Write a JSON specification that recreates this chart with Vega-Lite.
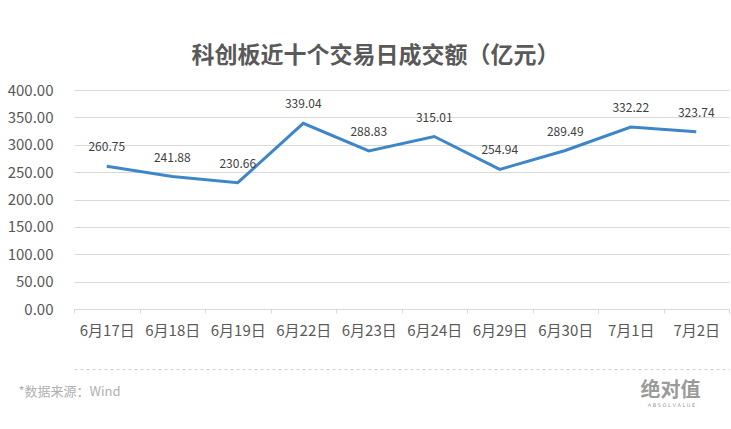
{
  "$schema": "https://vega.github.io/schema/vega-lite/v6.json",
  "width": 655,
  "height": 219,
  "autosize": {"type": "none"},
  "padding": {"left": 74, "top": 90, "right": 2, "bottom": 120},
  "background": "white",
  "config": {
    "view": {"stroke": null},
    "font": "Noto Sans CJK SC"
  },
  "title": {
    "text": "科创板近十个交易日成交额（亿元）",
    "fontSize": 23,
    "fontWeight": "bold",
    "color": "#595959",
    "font": "Noto Sans CJK SC",
    "anchor": "middle",
    "dx": -26,
    "offset": 15
  },
  "data": {
    "values": [
      {"date": "6月17日", "value": 260.75},
      {"date": "6月18日", "value": 241.88},
      {"date": "6月19日", "value": 230.66},
      {"date": "6月22日", "value": 339.04},
      {"date": "6月23日", "value": 288.83},
      {"date": "6月24日", "value": 315.01},
      {"date": "6月29日", "value": 254.94},
      {"date": "6月30日", "value": 289.49},
      {"date": "7月1日", "value": 332.22},
      {"date": "7月2日", "value": 323.74}
    ]
  },
  "resolve": {"axis": {"x": "independent", "y": "independent"}},
  "layer": [
    {
      "mark": {"type": "line", "color": "#3e86c8", "strokeWidth": 3},
      "encoding": {
        "x": {
          "field": "date",
          "type": "nominal",
          "sort": null,
          "scale": {"type": "band", "paddingInner": 0, "paddingOuter": 0},
          "axis": {
            "orient": "bottom",
            "labelAngle": 0,
            "labelFontSize": 15,
            "labelColor": "#595959",
            "labelFont": "Noto Sans CJK SC",
            "labelPadding": 10,
            "tickBand": "extent",
            "tickSize": 4,
            "tickColor": "#d9d9d9",
            "domainColor": "#d9d9d9",
            "grid": false,
            "title": "*数据来源：Wind",
            "titleFont": "Noto Sans CJK SC",
            "titleFontSize": 13,
            "titleFontWeight": "normal",
            "titleColor": "#b0b0b0",
            "titleAlign": "left",
            "titleBaseline": "middle",
            "titleX": -56,
            "titleY": 82
          }
        },
        "y": {
          "field": "value",
          "type": "quantitative",
          "scale": {"domain": [0, 400]},
          "axis": {
            "orient": "left",
            "values": [0, 50, 100, 150, 200, 250, 300, 350, 400],
            "format": ".2f",
            "labelFontSize": 15,
            "labelColor": "#595959",
            "labelFont": "Noto Sans CJK SC",
            "labelPadding": 21,
            "ticks": false,
            "domain": false,
            "grid": true,
            "gridColor": "#d9d9d9",
            "title": "绝对值",
            "titleFont": "Noto Sans CJK SC",
            "titleFontSize": 20,
            "titleFontWeight": "bold",
            "titleColor": "#9a9a9a",
            "titleAngle": 0,
            "titleAlign": "center",
            "titleBaseline": "middle",
            "titleX": 596,
            "titleY": 300
          }
        }
      }
    },
    {
      "mark": {"type": "text", "dy": -19, "fontSize": 12, "color": "#404040", "font": "Noto Sans CJK SC"},
      "encoding": {
        "x": {
          "field": "date",
          "type": "nominal",
          "sort": null,
          "axis": {
            "orient": "bottom",
            "offset": 60,
            "labels": false,
            "ticks": false,
            "grid": false,
            "domain": true,
            "domainWidth": 1,
            "domainColor": "#cfcfcf",
            "domainDash": [3, 3],
            "title": null
          }
        },
        "y": {
          "field": "value",
          "type": "quantitative",
          "axis": {
            "orient": "right",
            "labels": false,
            "ticks": false,
            "domain": false,
            "grid": false,
            "title": "A B S O L V A L U E",
            "titleFont": "DejaVu Sans",
            "titleFontSize": 5,
            "titleFontWeight": "normal",
            "titleColor": "#9a9a9a",
            "titleAngle": 0,
            "titleAlign": "center",
            "titleBaseline": "middle",
            "titleX": -58,
            "titleY": 314
          }
        },
        "text": {"field": "value", "type": "quantitative", "format": ".2f"}
      }
    }
  ]
}
